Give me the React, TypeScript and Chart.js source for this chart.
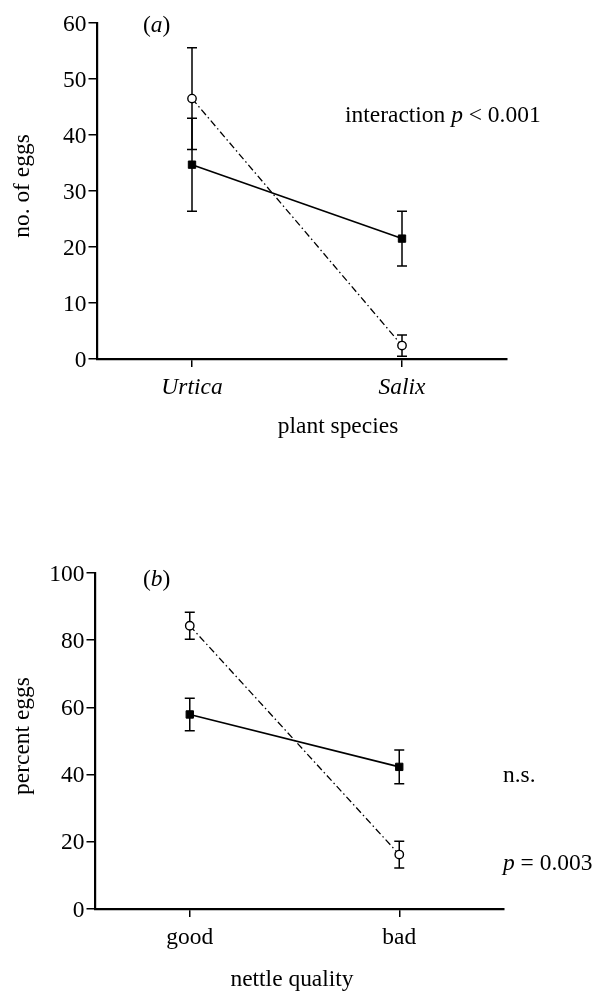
import React, { useEffect, useRef } from 'react';
import { Chart, registerables } from 'chart.js';

Chart.register(...registerables);

// ---------- data ----------
const catPositions = [1, 2];

const speciesLabels = ['Urtica', 'Salix'];
const eggsFilled = [34.7, 21.5];
const eggsFilledErr = [8.3, 4.9];
const eggsOpen = [46.5, 2.4];
const eggsOpenErr = [9.1, 1.9];
const eggsMax = 60;
const eggsStep = 10;

const qualityLabels = ['good', 'bad'];
const pctFilled = [57.9, 42.3];
const pctFilledErr = [4.85, 5.0];
const pctOpen = [84.3, 16.2];
const pctOpenErr = [4.0, 4.0];
const pctMax = 100;
const pctStep = 20;

// ---------- style ----------
const FONT = '"Liberation Serif", "Times New Roman", serif';
const FS = 23;
const SX = 1.02;

type Seg = [string, boolean];
interface Note { segs: Seg[]; x: number; y: number; }
interface Spec {
  top: number; height: number;
  padTop: number; padRight: number; yWidth: number; xHeight: number;
  yMax: number; yStep: number;
  cats: string[]; catItalic: boolean;
  filled: number[]; filledErr: number[]; open: number[]; openErr: number[];
  yTitle: string; xTitle: string; xTitleX: number; xTitleDy: number;
  notes: Note[];
}

function drawRich(ctx: CanvasRenderingContext2D, segs: Seg[], x: number, y: number, align: 'left' | 'center' | 'right', rotate = false) {
  ctx.save();
  ctx.translate(x, y);
  if (rotate) ctx.rotate(-Math.PI / 2);
  ctx.scale(SX, 1);
  ctx.textBaseline = 'alphabetic';
  ctx.textAlign = 'left';
  ctx.fillStyle = '#000';
  const widths = segs.map(([t, it]) => {
    ctx.font = `${it ? 'italic ' : ''}${FS}px ${FONT}`;
    return ctx.measureText(t).width;
  });
  const total = widths.reduce((a, b) => a + b, 0);
  let cx = align === 'center' ? -total / 2 : align === 'right' ? -total : 0;
  segs.forEach(([t, it], i) => {
    ctx.font = `${it ? 'italic ' : ''}${FS}px ${FONT}`;
    ctx.fillText(t, cx, 0);
    cx += widths[i];
  });
  ctx.restore();
}

function makePlugin(spec: Spec) {
  return {
    id: 'paneltext',
    beforeDatasetsDraw(chart: any) {
      const ctx: CanvasRenderingContext2D = chart.ctx;
      const xs = chart.scales.x, ys = chart.scales.y;
      ctx.save();
      ctx.strokeStyle = '#000';
      ctx.lineWidth = 1.5;
      const series: [number[], number[]][] = [[spec.filled, spec.filledErr], [spec.open, spec.openErr]];
      series.forEach(([vals, errs]) => {
        vals.forEach((v, i) => {
          const px = xs.getPixelForValue(catPositions[i]);
          const t = ys.getPixelForValue(v + errs[i]);
          const b = ys.getPixelForValue(v - errs[i]);
          ctx.beginPath();
          ctx.moveTo(px, t); ctx.lineTo(px, b);
          ctx.moveTo(px - 5, t); ctx.lineTo(px + 5, t);
          ctx.moveTo(px - 5, b); ctx.lineTo(px + 5, b);
          ctx.stroke();
        });
      });
      ctx.restore();
    },
    afterDraw(chart: any) {
      const ctx: CanvasRenderingContext2D = chart.ctx;
      const xs = chart.scales.x, ys = chart.scales.y;
      const area = chart.chartArea;
      // y tick labels
      ys.ticks.forEach((t: any) => {
        const py = ys.getPixelForValue(t.value);
        drawRich(ctx, [[String(t.value), false]], area.left - 11, py + 7.5, 'right');
      });
      // x tick labels
      spec.cats.forEach((c, i) => {
        const px = xs.getPixelForValue(catPositions[i]);
        drawRich(ctx, [[c, spec.catItalic]], px, area.bottom + 35, 'center');
      });
      // axis titles
      drawRich(ctx, [[spec.yTitle, false]], 29, (area.top + area.bottom) / 2 - 5, 'center', true);
      drawRich(ctx, [[spec.xTitle, false]], spec.xTitleX, area.bottom + spec.xTitleDy, 'center');
      // notes
      spec.notes.forEach((n) => drawRich(ctx, n.segs, n.x, n.y, 'left'));
    },
  };
}

const specA: Spec = {
  top: 0, height: 460,
  padTop: 23, padRight: 90, yWidth: 97.5, xHeight: 101,
  yMax: eggsMax, yStep: eggsStep,
  cats: speciesLabels, catItalic: true,
  filled: eggsFilled, filledErr: eggsFilledErr, open: eggsOpen, openErr: eggsOpenErr,
  yTitle: 'no. of eggs', xTitle: 'plant species', xTitleX: 338, xTitleDy: 74,
  notes: [
    { segs: [['(', false], ['a', true], [')', false]], x: 143, y: 32 },
    { segs: [['interaction ', false], ['p', true], [' < 0.001', false]], x: 345, y: 121.5 },
  ],
};

const specB: Spec = {
  top: 530, height: 462,
  padTop: 43, padRight: 93, yWidth: 95.5, xHeight: 83,
  yMax: pctMax, yStep: pctStep,
  cats: qualityLabels, catItalic: false,
  filled: pctFilled, filledErr: pctFilledErr, open: pctOpen, openErr: pctOpenErr,
  yTitle: 'percent eggs', xTitle: 'nettle quality', xTitleX: 292, xTitleDy: 77,
  notes: [
    { segs: [['(', false], ['b', true], [')', false]], x: 143, y: 586 - 530 },
    { segs: [['n.s.', false]], x: 503, y: 782 - 530 },
    { segs: [['p', true], [' = 0.003', false]], x: 503, y: 870 - 530 },
  ],
};

function Panel({ spec }: { spec: Spec }) {
  const ref = useRef<HTMLCanvasElement>(null);
  useEffect(() => {
    const chart = new Chart(ref.current as HTMLCanvasElement, {
      type: 'line',
      data: {
        datasets: [
          {
            data: spec.filled.map((v, i) => ({ x: catPositions[i], y: v })),
            borderColor: '#000',
            borderWidth: 1.6,
            pointStyle: 'rect',
            pointRadius: 5.2,
            pointBackgroundColor: '#000',
            pointBorderColor: '#000',
            pointBorderWidth: 1,
            fill: false,
          },
          {
            data: spec.open.map((v, i) => ({ x: catPositions[i], y: v })),
            borderColor: '#000',
            borderWidth: 1.3,
            borderDash: [7, 3, 1.5, 3],
            pointStyle: 'circle',
            pointRadius: 4.2,
            pointBackgroundColor: '#fff',
            pointBorderColor: '#000',
            pointBorderWidth: 1.4,
            fill: false,
          },
        ],
      } as any,
      options: {
        animation: false,
        responsive: false,
        devicePixelRatio: 1,
        events: [],
        layout: { padding: { top: spec.padTop, right: spec.padRight, left: 0, bottom: 0 } },
        plugins: { legend: { display: false }, tooltip: { enabled: false } },
        scales: {
          x: {
            type: 'linear',
            min: 0.55,
            max: 2.5,
            afterBuildTicks: (s: any) => { s.ticks = catPositions.map((v) => ({ value: v })); },
            afterFit: (s: any) => { s.height = spec.xHeight; },
            grid: { display: true, drawOnChartArea: false, drawTicks: true, tickLength: 8, color: '#000', lineWidth: 1.5 },
            border: { display: true, color: '#000', width: 2.2 },
            ticks: { color: 'rgba(0,0,0,0)' },
          },
          y: {
            type: 'linear',
            min: 0,
            max: spec.yMax,
            afterFit: (s: any) => { s.width = spec.yWidth; },
            grid: { display: true, drawOnChartArea: false, drawTicks: true, tickLength: 9, color: '#000', lineWidth: 1.5 },
            border: { display: true, color: '#000', width: 2.2 },
            ticks: { color: 'rgba(0,0,0,0)', stepSize: spec.yStep },
          },
        },
      } as any,
      plugins: [makePlugin(spec)],
    });
    return () => chart.destroy();
  }, []);
  return (
    <canvas
      ref={ref}
      width={597}
      height={spec.height}
      style={{ position: 'absolute', left: 0, top: spec.top, width: 597, height: spec.height }}
    />
  );
}

export default function App() {
  return (
    <div style={{ position: 'absolute', left: 0, top: 0, width: 597, height: 992, background: '#fff' }}>
      <Panel spec={specA} />
      <Panel spec={specB} />
    </div>
  );
}
